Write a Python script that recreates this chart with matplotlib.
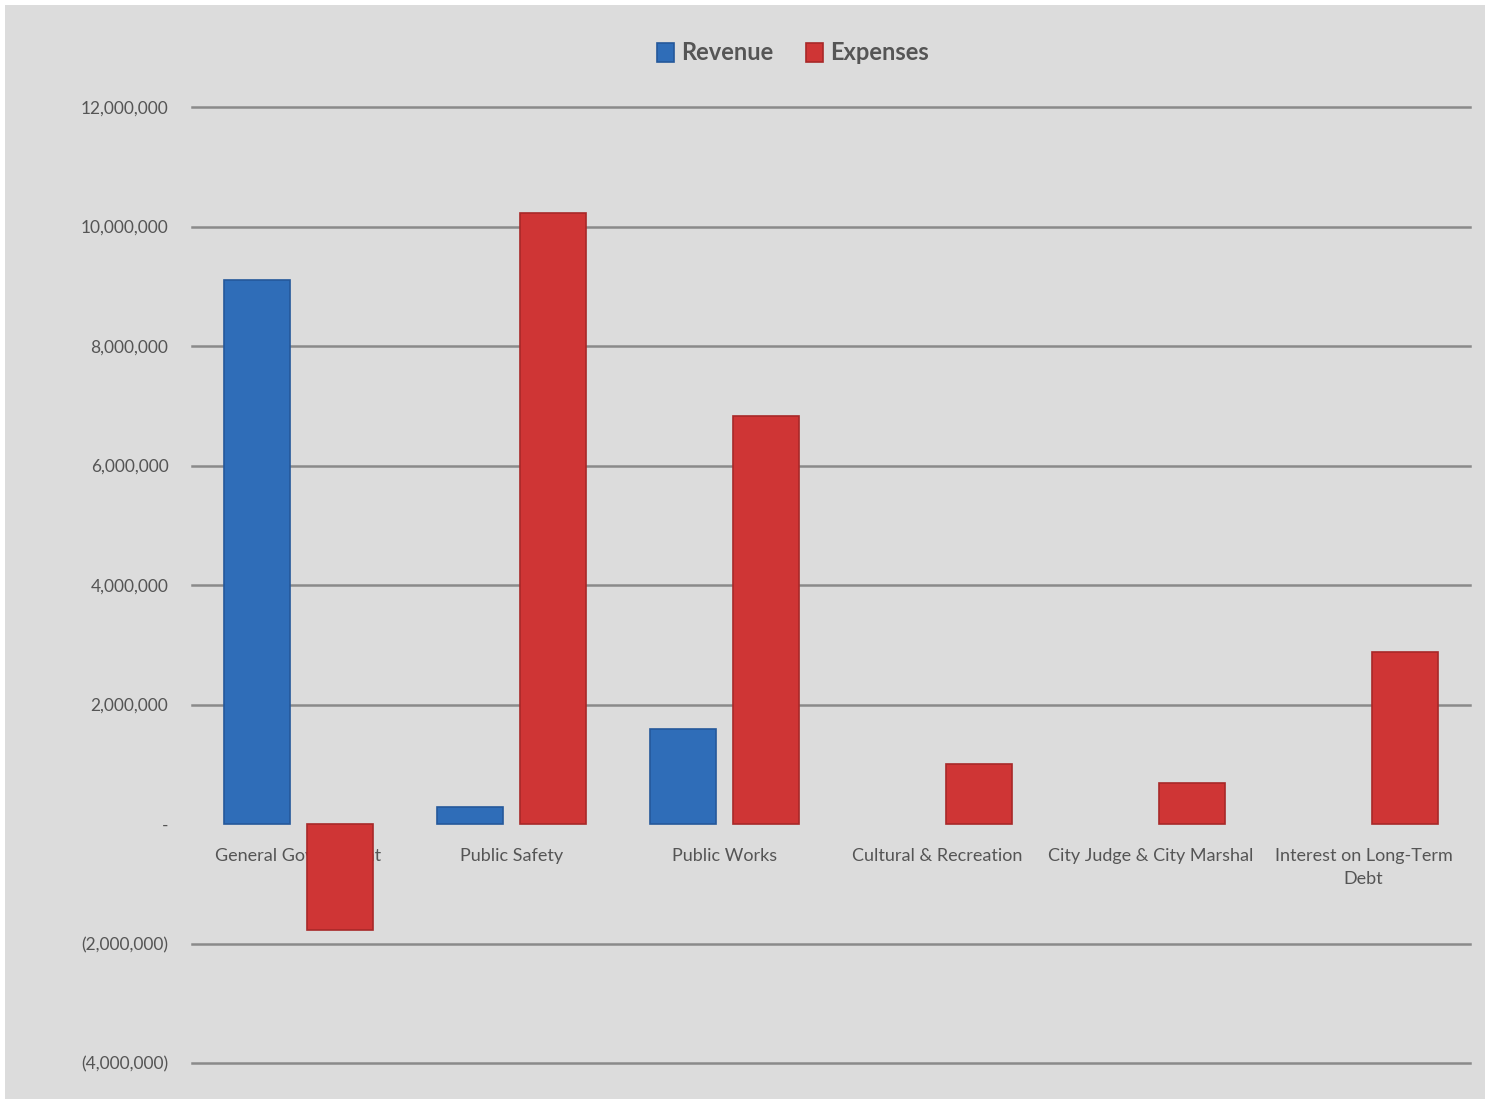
import matplotlib
matplotlib.use('Agg')
import matplotlib.pyplot as plt
from matplotlib.patches import Rectangle
from matplotlib.ticker import FuncFormatter
import numpy as np

categories = ["General Government", "Public Safety", "Public Works",
              "Cultural & Recreation", "City Judge & City Marshal",
              "Interest on Long-Term\nDebt"]
revenue = [9100000, 280000, 1590000, 0, 0, 0]
expenses = [-1770000, 10230000, 6830000, 1000000, 690000, 2880000]
y_ticks = [-4000000, -2000000, 0, 2000000, 4000000, 6000000,
           8000000, 10000000, 12000000]

bg = '#dcdcdc'
blue = '#2f6db8'
red = '#cf3535'
text_col = '#555555'

plt.rcParams['font.family'] = ['Lato', 'DejaVu Sans']

fig = plt.figure(figsize=(14.87, 10.99), dpi=100)
fig.patch.set_facecolor('white')
# gray chart area with thin white margin on top/left
fig.patches.append(Rectangle((5 / 1487, -0.01), 1480 / 1487, 1.01 - 5 / 1099,
                             transform=fig.transFigure, facecolor=bg,
                             edgecolor='none', zorder=-5))

ax = fig.add_axes([192 / 1487, 1 - 1063 / 1099,
                   (1470 - 192) / 1487, (1063 - 107) / 1099])
ax.set_facecolor('none')
ax.set_axisbelow(True)

x = np.arange(len(categories))
w = 0.31
off = 0.195
rev_lw = [1.2 if v != 0 else 0 for v in revenue]
exp_lw = [1.2 if v != 0 else 0 for v in expenses]
ax.bar(x - off, revenue, w, color=blue, edgecolor='#25589a', linewidth=rev_lw,
       zorder=3, label='Revenue')
ax.bar(x + off, expenses, w, color=red, edgecolor='#a82828', linewidth=exp_lw,
       zorder=3, label='Expenses')

ax.set_xlim(-0.5, len(categories) - 0.5)
ax.set_ylim(y_ticks[0], y_ticks[-1])
ax.set_yticks(y_ticks)


def fmt(v, pos):
    if v == 0:
        return '-'
    if v < 0:
        return '({:,.0f})'.format(-v)
    return '{:,.0f}'.format(v)


ax.yaxis.set_major_formatter(FuncFormatter(fmt))
ax.tick_params(axis='y', length=0, pad=17, labelsize=12.5, labelcolor=text_col)
ax.set_xticks([])

for t in y_ticks:
    if t != 0:
        ax.axhline(t, color='#8a8a8a', linewidth=1.8, zorder=1, clip_on=False)

for sp in ax.spines.values():
    sp.set_visible(False)

# category labels sit just under the zero line, behind the bars
for i, name in enumerate(categories):
    ax.annotate(name, (i, 0), xytext=(0, -17), textcoords='offset points',
                ha='center', va='top', fontsize=13, color=text_col,
                linespacing=1.55, zorder=2)

fig.legend(loc='center', bbox_to_anchor=(793 / 1487, 1 - 53 / 1099),
           ncol=2, frameon=False, handlelength=0.7,
           handleheight=0.9, handletextpad=0.3, columnspacing=1.4,
           labelcolor=text_col, prop={'weight': 'bold', 'size': 17})

fig.savefig('out.png', dpi=100, facecolor=fig.get_facecolor())
